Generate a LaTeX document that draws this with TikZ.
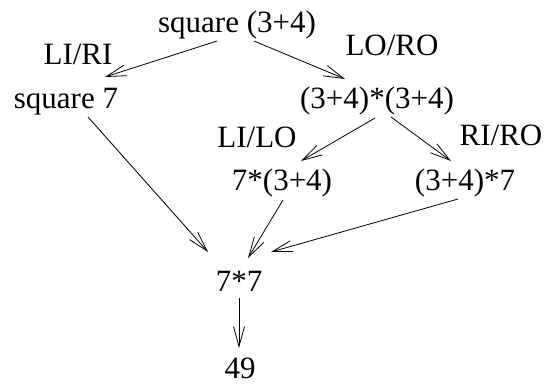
\documentclass[tikz,border=0pt]{standalone}
\usepackage{fontspec}
\setmainfont{Liberation Serif}
\usetikzlibrary{arrows.meta,calc}
\begin{document}
\begin{tikzpicture}[x=1pt,y=-1pt,
  term/.style={inner sep=0pt,anchor=base,font=\fontsize{31}{36}\selectfont},
  conn/.style={line width=0.8pt,-{Straight Barb[length=20pt,width=11pt,line width=0.8pt]}}]
\useasboundingbox (0,0) rectangle (545,383);
\node[term] (sq34) at (237,32) {square (3+4)};
\node[term] (sq7) at (66,108) {square 7};
\node[term] (prod) at (377,108) {(3+4)*(3+4)};
\node[term] (l7) at (282,190) {7*(3+4)};
\node[term] (r7) at (465,190) {(3+4)*7};
\node[term] (m77) at (239,291) {7*7};
\node[term] (n49) at (240,378) {49};
\node[term] (liri) at (78,64) {LI/RI};
\node[term] (loro) at (392,55) {LO/RO};
\node[term] (lilo) at (257,147) {LI/LO};
\node[term] (riro) at (501,145) {RI/RO};
\draw[conn] ($(sq34.base)+(-20,9)$) -- ($(sq7.base)+(39,-31)$);
\draw[conn] ($(sq34.base)+(17,9)$) -- ($(prod.base)+(-32,-29)$);
\draw[conn] ($(prod.base)+(-2,10)$) -- ($(l7.base)+(19,-29)$);
\draw[conn] ($(prod.base)+(14,9)$) -- ($(r7.base)+(-14,-29)$);
\draw[conn] ($(sq7.base)+(22,9)$) -- ($(m77.base)+(-31,-39)$);
\draw[conn] ($(l7.base)+(1,10)$) -- ($(m77.base)+(9,-33)$);
\draw[conn] ($(r7.base)+(-7,9)$) -- ($(m77.base)+(32,-39)$);
\draw[conn] ($(m77.base)+(0,7)$) -- ($(n49.base)+(-1,-30)$);
\end{tikzpicture}
\end{document}
